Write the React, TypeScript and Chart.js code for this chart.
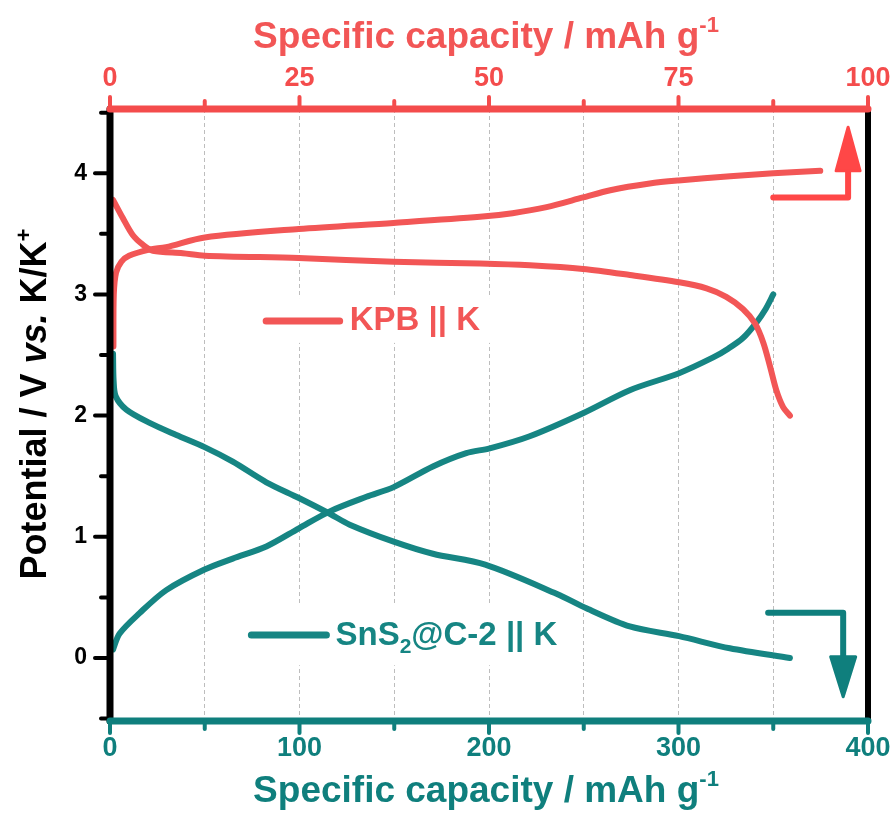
import React, { useEffect, useRef } from "react";
import { Chart, registerables } from "chart.js";

Chart.register(...registerables);

// ---------- data ----------
// KPB || K  (top axis, specific capacity 0-100 mAh g-1)
const kpbChargeCap = [0.45, 0.5, 0.8, 1.5, 2.5, 5.2, 7.4, 12.5, 24.9, 37.4, 48.8, 53.1, 57.6, 62.4, 66.0, 71.2, 75.0, 81.8, 87.5, 93.7];
const kpbChargeV = [2.57, 3.0, 3.18, 3.27, 3.32, 3.37, 3.39, 3.47, 3.54, 3.59, 3.64, 3.67, 3.72, 3.8, 3.86, 3.915, 3.94, 3.975, 4.0, 4.02];
const kpbDischargeCap = [0.4, 1.69, 3.0, 4.33, 5.65, 9.6, 12.5, 24.9, 37.4, 48.8, 55.4, 62.4, 68.6, 75.1, 78.7, 81.3, 83.5, 85.1, 86.2, 87.1, 87.9, 88.8, 89.7];
const kpbDischargeV = [3.78, 3.63, 3.49, 3.41, 3.36, 3.34, 3.32, 3.3, 3.27, 3.255, 3.24, 3.21, 3.16, 3.1, 3.05, 2.98, 2.88, 2.76, 2.6, 2.4, 2.21, 2.07, 2.0];

// SnS2@C-2 || K  (bottom axis, specific capacity 0-400 mAh g-1)
const snsDischargeCap = [1.6, 1.9, 3.0, 8.6, 20.9, 35, 49.9, 64.8, 82.5, 99.7, 116, 126.5, 149.7, 170.4, 198, 235.6, 251.4, 274.3, 300.3, 327.1, 358.8];
const snsDischargeV = [2.51, 2.29, 2.16, 2.05, 1.94, 1.84, 1.74, 1.62, 1.45, 1.32, 1.19, 1.1, 0.96, 0.86, 0.77, 0.53, 0.41, 0.26, 0.18, 0.08, 0.0];
const snsChargeCap = [1.6, 5.0, 15.6, 29.7, 49.9, 64.8, 82.5, 99.7, 116, 135.3, 149.7, 170.4, 188, 200.4, 221.5, 249.6, 274.3, 300.3, 318.3, 326, 334, 341.2, 346, 350];
const snsChargeV = [0.07, 0.2, 0.37, 0.56, 0.73, 0.82, 0.92, 1.07, 1.21, 1.33, 1.41, 1.58, 1.69, 1.73, 1.83, 2.02, 2.21, 2.35, 2.48, 2.55, 2.64, 2.77, 2.88, 3.0];

// axes
const bottomMin = 0, bottomMax = 400, bottomStep = 50, bottomLabelStep = 100;
const topMin = 0, topMax = 100, topStep = 12.5, topLabelStep = 25;
const yMin = -0.52, yMax = 4.53, yStep = 0.5;

const topTitle = "Specific capacity / mAh g";
const bottomTitle = "Specific capacity / mAh g";
const titleSup = "-1";
const kpbLabel = "KPB || K";
const snsLabelParts = ["SnS", "2", "@C-2 || K"];

// ---------- styles ----------
const RED = "#F25656";
const RED_AXIS = "#F44C4C";
const RED_ARROW = "#FF4747";
const TEAL = "#168583";
const TEAL_AXIS = "#0F7F7D";
const SANS = '"Liberation Sans", Arial, sans-serif';

const zip = (xs: number[], ys: number[]) => xs.map((x, i) => ({ x, y: ys[i] }));

type Seg = { t: string; font: string; dy?: number };
function drawRich(ctx: CanvasRenderingContext2D, segs: Seg[], x: number, y: number, align: "center" | "left") {
  let w = 0;
  for (const s of segs) {
    ctx.font = s.font;
    w += ctx.measureText(s.t).width;
  }
  let cx = align === "center" ? x - w / 2 : x;
  ctx.textAlign = "left";
  ctx.textBaseline = "alphabetic";
  for (const s of segs) {
    ctx.font = s.font;
    ctx.fillText(s.t, cx, y + (s.dy || 0));
    cx += ctx.measureText(s.t).width;
  }
  return w;
}

function seg(ctx: CanvasRenderingContext2D, x0: number, y0: number, x1: number, y1: number) {
  ctx.beginPath();
  ctx.moveTo(x0, y0);
  ctx.lineTo(x1, y1);
  ctx.stroke();
}

function arrow(ctx: CanvasRenderingContext2D, color: string, x0: number, x1: number, yLine: number, yBase: number, yTip: number, halfW: number) {
  ctx.save();
  ctx.strokeStyle = color;
  ctx.fillStyle = color;
  ctx.lineWidth = 6;
  ctx.lineCap = "round";
  ctx.lineJoin = "round";
  ctx.beginPath();
  ctx.moveTo(x0, yLine);
  ctx.lineTo(x1, yLine);
  ctx.lineTo(x1, yBase);
  ctx.stroke();
  ctx.lineWidth = 3;
  ctx.beginPath();
  ctx.moveTo(x1 - halfW, yBase);
  ctx.lineTo(x1 + halfW, yBase);
  ctx.lineTo(x1, yTip);
  ctx.closePath();
  ctx.fill();
  ctx.stroke();
  ctx.restore();
}

const decor = {
  id: "decor",
  beforeDatasetsDraw(chart: any) {
    const ctx: CanvasRenderingContext2D = chart.ctx;
    const sx = chart.scales.x, sy = chart.scales.y;
    ctx.save();
    ctx.fillStyle = "#ffffff";
    // legend background boxes (hide grid lines behind the labels)
    const k0 = sx.getPixelForValue(78);
    const k1 = sx.getPixelForValue(205);
    ctx.fillRect(k0, sy.getPixelForValue(2.97), k1 - k0, sy.getPixelForValue(2.6) - sy.getPixelForValue(2.97));
    const s0 = sx.getPixelForValue(70);
    const s1 = sx.getPixelForValue(245);
    ctx.fillRect(s0, sy.getPixelForValue(0.43), s1 - s0, sy.getPixelForValue(-0.06) - sy.getPixelForValue(0.43));
    ctx.restore();
  },
  afterDraw(chart: any) {
    const ctx: CanvasRenderingContext2D = chart.ctx;
    const a = chart.chartArea;
    const sx = chart.scales.x, sx2 = chart.scales.x2, sy = chart.scales.y;
    ctx.save();
    ctx.lineCap = "round";

    // black left / right frame
    ctx.strokeStyle = "#000";
    ctx.lineWidth = 7;
    seg(ctx, a.left, a.top, a.left, a.bottom);
    ctx.lineWidth = 6;
    seg(ctx, a.right, a.top, a.right, a.bottom);
    ctx.lineWidth = 4;
    for (let v = -0.5; v <= 4.5 + 1e-9; v += yStep) {
      const py = sy.getPixelForValue(v);
      const major = v >= 0 && Math.abs(v - Math.round(v)) < 1e-6;
      seg(ctx, a.left, py, a.left - (major ? 15 : 9), py);
    }

    // top red axis
    ctx.strokeStyle = RED_AXIS;
    ctx.lineWidth = 7;
    seg(ctx, a.left, a.top, a.right, a.top);
    ctx.lineWidth = 4;
    for (let v = topMin; v <= topMax + 1e-9; v += topStep) {
      const px = sx2.getPixelForValue(v);
      const major = Math.abs(v / topLabelStep - Math.round(v / topLabelStep)) < 1e-6;
      seg(ctx, px, a.top, px, a.top - (major ? 12 : 8));
    }

    // bottom teal axis
    ctx.strokeStyle = TEAL_AXIS;
    ctx.lineWidth = 7;
    seg(ctx, a.left, a.bottom, a.right, a.bottom);
    ctx.lineWidth = 4;
    for (let v = bottomMin; v <= bottomMax + 1e-9; v += bottomStep) {
      const px = sx.getPixelForValue(v);
      const major = v % bottomLabelStep === 0;
      seg(ctx, px, a.bottom, px, a.bottom + (major ? 12 : 8));
    }

    const cxMid = (a.left + a.right) / 2;
    // axis titles
    ctx.fillStyle = RED;
    drawRich(ctx, [
      { t: topTitle, font: `bold 37px ${SANS}` },
      { t: titleSup, font: `bold 22px ${SANS}`, dy: -16 },
    ], cxMid - 3, 48, "center");
    ctx.fillStyle = TEAL_AXIS;
    drawRich(ctx, [
      { t: bottomTitle, font: `bold 37px ${SANS}` },
      { t: titleSup, font: `bold 22px ${SANS}`, dy: -16 },
    ], cxMid - 3, 802, "center");

    ctx.save();
    ctx.translate(46, 404);
    ctx.rotate(-Math.PI / 2);
    ctx.fillStyle = "#000";
    drawRich(ctx, [
      { t: "Potential / V ", font: `bold 36px ${SANS}` },
      { t: "vs.", font: `italic bold 36px ${SANS}` },
      { t: " K/K", font: `bold 36px ${SANS}` },
      { t: "+", font: `bold 22px ${SANS}`, dy: -15 },
    ], 0, 0, "center");
    ctx.restore();

    // in-plot legend: KPB || K
    ctx.lineWidth = 7;
    ctx.strokeStyle = RED;
    const ky = sy.getPixelForValue(2.78);
    seg(ctx, sx.getPixelForValue(82.4), ky, sx.getPixelForValue(121.2), ky);
    ctx.fillStyle = RED;
    drawRich(ctx, [{ t: kpbLabel, font: `bold 33px ${SANS}` }], sx.getPixelForValue(126.5), sy.getPixelForValue(2.705), "left");

    // in-plot legend: SnS2@C-2 || K
    ctx.strokeStyle = TEAL;
    const ty = sy.getPixelForValue(0.19);
    seg(ctx, sx.getPixelForValue(74.6), ty, sx.getPixelForValue(114.2), ty);
    ctx.fillStyle = TEAL;
    drawRich(ctx, [
      { t: snsLabelParts[0], font: `bold 33px ${SANS}` },
      { t: snsLabelParts[1], font: `bold 21px ${SANS}`, dy: 8 },
      { t: snsLabelParts[2], font: `bold 33px ${SANS}` },
    ], sx.getPixelForValue(119), sy.getPixelForValue(0.107), "left");

    // direction arrows
    arrow(ctx, RED_ARROW, sx.getPixelForValue(350), sx.getPixelForValue(389.5), sy.getPixelForValue(3.8), sy.getPixelForValue(4.02), sy.getPixelForValue(4.38), 12);
    arrow(ctx, TEAL_AXIS, sx.getPixelForValue(347.3), sx.getPixelForValue(386.9), sy.getPixelForValue(0.374), sy.getPixelForValue(0.01), sy.getPixelForValue(-0.32), 12.5);

    ctx.restore();
  },
};

const fitX = (h: number) => (s: any) => {
  s.height = h;
  s.paddingLeft = 0;
  s.paddingRight = 0;
};

export default function App() {
  const ref = useRef<HTMLCanvasElement>(null);
  useEffect(() => {
    document.body.style.margin = "0";
    const canvas = ref.current!;
    const chart = new Chart(canvas, {
      type: "line",
      data: {
        datasets: [
          { label: "KPB charge", data: zip(kpbChargeCap, kpbChargeV), xAxisID: "x2", yAxisID: "y", borderColor: RED },
          { label: "KPB discharge", data: zip(kpbDischargeCap, kpbDischargeV), xAxisID: "x2", yAxisID: "y", borderColor: RED },
          { label: "SnS2 discharge", data: zip(snsDischargeCap, snsDischargeV), xAxisID: "x", yAxisID: "y", borderColor: TEAL },
          { label: "SnS2 charge", data: zip(snsChargeCap, snsChargeV), xAxisID: "x", yAxisID: "y", borderColor: TEAL },
        ],
      },
      options: {
        animation: false,
        responsive: false,
        layout: { padding: { left: 0, right: 27, top: 0, bottom: 0 } },
        plugins: { legend: { display: false }, tooltip: { enabled: false } },
        elements: {
          point: { radius: 0 },
          line: { borderWidth: 6, tension: 0.3, borderCapStyle: "round", borderJoinStyle: "round", fill: false },
        },
        scales: {
          x: {
            type: "linear",
            position: "bottom",
            min: bottomMin,
            max: bottomMax,
            afterFit: fitX(100),
            ticks: {
              stepSize: bottomStep,
              autoSkip: false,
              maxRotation: 0,
              padding: 11,
              color: TEAL_AXIS,
              font: { family: SANS, weight: "bold", size: 27 },
              callback: (v: any) => (Number(v) % bottomLabelStep === 0 ? String(v) : ""),
            },
            grid: {
              drawTicks: false,
              lineWidth: 1,
              color: (c: any) => (c.tick && (c.tick.value === bottomMin || c.tick.value === bottomMax) ? "rgba(0,0,0,0)" : "#BDBDBD"),
            },
            border: { display: false, dash: [4, 3] },
          },
          x2: {
            type: "linear",
            position: "top",
            min: topMin,
            max: topMax,
            afterFit: fitX(109),
            ticks: {
              stepSize: topStep,
              autoSkip: false,
              maxRotation: 0,
              padding: 14,
              color: RED_AXIS,
              font: { family: SANS, weight: "bold", size: 27 },
              callback: (v: any) => (Math.abs(Number(v) / topLabelStep - Math.round(Number(v) / topLabelStep)) < 1e-6 ? String(v) : ""),
            },
            grid: { display: false, drawTicks: false },
            border: { display: false },
          },
          y: {
            type: "linear",
            position: "left",
            min: yMin,
            max: yMax,
            afterFit: (s: any) => {
              s.width = 110;
              s.paddingTop = 0;
              s.paddingBottom = 0;
            },
            ticks: {
              stepSize: yStep,
              includeBounds: false,
              autoSkip: false,
              padding: 23,
              color: "#000",
              font: { family: SANS, weight: "bold", size: 23 },
              callback: (v: any) => (Number.isInteger(Number(v)) && Number(v) >= 0 ? String(v) : ""),
            },
            grid: { display: false, drawTicks: false },
            border: { display: false },
          },
        },
      } as any,
      plugins: [decor],
    });
    return () => chart.destroy();
  }, []);
  return (
    <div style={{ width: 895, height: 821 }}>
      <canvas ref={ref} width={895} height={821} style={{ display: "block" }} />
    </div>
  );
}
